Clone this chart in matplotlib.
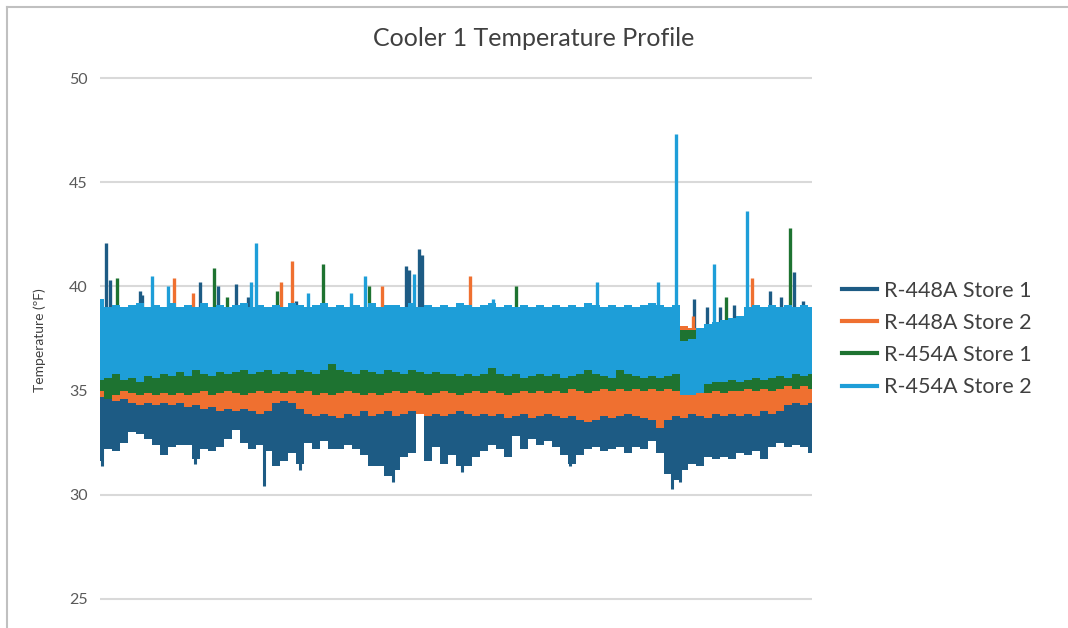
import numpy as np
import matplotlib
matplotlib.use("Agg")
import matplotlib.pyplot as plt
from matplotlib.lines import Line2D

# readings of each band every 8 samples (sample 0 .. 712)
t = np.arange(0, 713, 8)

# R-448A Store 1
s1_lo = [31.6, 32.2, 32.1, 32.5, 33.0, 32.9, 32.7, 32.4, 31.9, 32.3,
         32.4, 32.4, 31.7, 32.2, 32.1, 32.3, 32.7, 33.1, 32.5, 32.2,
         32.4, 32.1, 31.4, 31.6, 32.0, 31.5, 32.5, 32.2, 32.6, 32.2,
         32.2, 32.4, 32.2, 31.9, 31.4, 31.4, 30.9, 31.2, 31.8, 32.0,
         33.9, 31.6, 32.3, 31.5, 31.9, 31.4, 31.4, 31.8, 32.1, 32.4,
         32.2, 31.8, 32.8, 32.2, 32.7, 32.4, 32.6, 32.3, 31.9, 31.5,
         31.9, 32.2, 32.3, 32.1, 32.2, 32.3, 32.0, 32.3, 32.2, 32.6,
         32.0, 31.0, 30.7, 31.2, 31.5, 31.4, 31.8, 31.7, 31.8, 31.7,
         32.0, 31.9, 32.1, 31.7, 32.3, 32.5, 32.3, 32.4, 32.3, 32.0]
s1_hi = [37.0, 37.0, 37.0, 37.0, 37.0, 37.0, 37.0, 37.0, 37.0, 37.0,
         37.0, 37.0, 37.0, 37.0, 37.0, 37.0, 37.0, 37.0, 37.0, 37.0,
         37.0, 37.0, 37.0, 37.0, 37.0, 37.0, 37.0, 37.0, 37.0, 37.0,
         37.0, 37.0, 37.0, 37.0, 37.0, 37.0, 37.0, 37.0, 37.0, 37.0,
         37.0, 37.0, 37.0, 37.0, 37.0, 37.0, 37.0, 37.0, 37.0, 37.0,
         37.0, 37.0, 37.0, 37.0, 37.0, 37.0, 37.0, 37.0, 37.0, 37.0,
         37.0, 37.0, 37.0, 37.0, 37.0, 37.0, 37.0, 37.0, 37.0, 37.0,
         37.0, 37.0, 37.0, 37.0, 37.0, 37.0, 37.0, 37.0, 37.0, 37.0,
         37.0, 37.0, 37.0, 37.0, 37.0, 37.0, 37.0, 37.0, 37.0, 37.0]
s1_peak_t = [6, 10, 40, 42, 100, 118, 136, 148, 196, 306, 309, 319, 322,
             594, 607, 620, 634, 670, 681, 694, 703]
s1_peak_v = [42.1, 40.3, 39.8, 39.6, 40.2, 40.0, 40.1, 39.5, 39.3, 41.0, 40.8, 41.8, 41.5,
             39.4, 39.0, 39.0, 39.1, 39.8, 39.5, 40.7, 39.3]
s1_dip_t = [2, 95, 164, 200, 293, 362, 470, 572, 580]
s1_dip_v = [31.4, 31.5, 30.4, 31.2, 30.6, 31.1, 31.4, 30.3, 30.6]

# R-448A Store 2
s2_lo = [34.7, 34.6, 34.5, 34.6, 34.4, 34.3, 34.4, 34.3, 34.4, 34.3,
         34.4, 34.2, 34.3, 34.1, 34.2, 34.0, 34.1, 34.0, 34.1, 34.0,
         33.9, 34.0, 34.4, 34.5, 34.4, 34.1, 33.9, 33.8, 33.9, 33.8,
         33.7, 33.9, 33.8, 34.0, 33.8, 33.9, 34.0, 33.8, 33.9, 34.0,
         33.9, 33.8, 33.9, 33.8, 33.9, 34.0, 33.9, 33.8, 33.9, 33.8,
         33.9, 33.7, 33.8, 33.9, 33.7, 33.8, 33.9, 33.8, 33.7, 33.8,
         33.6, 33.5, 33.6, 33.8, 33.7, 33.8, 33.9, 33.8, 33.7, 33.6,
         33.2, 33.6, 33.8, 33.7, 33.9, 33.8, 33.7, 33.9, 33.8, 33.9,
         33.8, 33.9, 33.8, 34.0, 33.9, 34.0, 34.3, 34.4, 34.3, 34.4]
s2_hi = [37.5, 37.5, 37.5, 37.5, 37.5, 37.5, 37.5, 37.5, 37.5, 37.5,
         37.5, 37.5, 37.5, 37.5, 37.5, 37.5, 37.5, 37.5, 37.5, 37.5,
         37.5, 37.5, 37.5, 37.5, 37.5, 37.5, 37.5, 37.5, 37.5, 37.5,
         37.5, 37.5, 37.5, 37.5, 37.5, 37.5, 37.5, 37.5, 37.5, 37.5,
         37.5, 37.5, 37.5, 37.5, 37.5, 37.5, 37.5, 37.5, 37.5, 37.5,
         37.5, 37.5, 37.5, 37.5, 37.5, 37.5, 37.5, 37.5, 37.5, 37.5,
         37.5, 37.5, 37.5, 37.5, 37.5, 37.5, 37.5, 37.5, 37.5, 37.5,
         37.5, 37.5, 37.5, 38.1, 38.0, 37.5, 37.5, 37.5, 37.5, 37.5,
         37.5, 37.5, 37.5, 37.5, 37.5, 37.5, 37.5, 37.5, 37.5, 37.5]
s2_peak_t = [13, 74, 93, 181, 192, 282, 370, 593, 652]
s2_peak_v = [39.1, 40.4, 39.7, 40.2, 41.2, 40.0, 40.5, 38.6, 40.4]

# R-454A Store 1
s3_lo = [35.0, 34.6, 34.8, 35.0, 34.9, 34.8, 34.9, 34.8, 34.9, 34.8,
         34.9, 34.8, 34.9, 35.0, 34.8, 34.9, 35.0, 34.9, 34.8, 34.9,
         35.0, 34.9, 35.0, 34.9, 35.0, 34.9, 35.0, 34.8, 34.9, 34.8,
         34.9, 35.0, 34.9, 34.8, 34.9, 34.8, 34.9, 35.0, 34.9, 35.0,
         34.9, 34.8, 34.9, 35.0, 34.9, 34.8, 34.9, 35.0, 34.9, 35.0,
         34.9, 34.8, 34.9, 35.0, 34.9, 35.0, 34.9, 35.0, 34.9, 35.1,
         35.0, 34.9, 35.0, 35.1, 35.0, 35.1, 35.0, 35.1, 35.0, 35.1,
         35.0, 35.1, 35.0, 34.9, 34.9, 34.9, 34.9, 35.0, 34.9, 35.0,
         35.0, 35.1, 35.0, 35.1, 35.0, 35.1, 35.2, 35.1, 35.2, 35.1]
s3_hi = [38.0, 38.0, 38.0, 38.0, 38.0, 38.0, 38.0, 38.0, 38.0, 38.0,
         38.0, 38.0, 38.0, 38.0, 38.0, 38.0, 38.0, 38.0, 38.0, 38.0,
         38.0, 38.0, 38.0, 38.0, 38.0, 38.0, 38.0, 38.0, 38.0, 38.0,
         38.0, 38.0, 38.0, 38.0, 38.0, 38.0, 38.0, 38.0, 38.0, 38.0,
         38.0, 38.0, 38.0, 38.0, 38.0, 38.0, 38.0, 38.0, 38.0, 38.0,
         38.0, 38.0, 38.0, 38.0, 38.0, 38.0, 38.0, 38.0, 38.0, 38.0,
         38.0, 38.0, 38.0, 38.0, 38.0, 38.0, 38.0, 38.0, 38.0, 38.0,
         38.0, 38.0, 38.0, 37.9, 37.9, 38.0, 38.0, 38.0, 38.0, 38.0,
         38.0, 38.0, 38.0, 38.0, 38.0, 38.0, 38.0, 38.0, 38.0, 38.0]
s3_peak_t = [17, 114, 127, 177, 223, 269, 416, 626, 690]
s3_peak_v = [40.4, 40.9, 39.5, 39.8, 41.1, 40.0, 40.0, 39.5, 42.8]

# R-454A Store 2
s4_lo = [35.5, 35.6, 35.8, 35.5, 35.6, 35.4, 35.7, 35.6, 35.8, 35.7,
         35.9, 35.7, 36.0, 35.8, 35.7, 35.9, 35.8, 35.9, 36.0, 35.8,
         35.9, 36.0, 35.8, 35.9, 35.8, 36.0, 35.9, 35.8, 36.0, 36.3,
         36.0, 35.9, 35.8, 36.0, 35.9, 35.8, 36.0, 35.9, 35.8, 36.0,
         35.9, 35.8, 35.9, 35.8, 35.8, 35.7, 35.8, 35.7, 35.8, 36.1,
         35.8, 35.7, 35.8, 35.6, 35.7, 35.8, 35.7, 35.8, 35.6, 35.7,
         35.8, 36.0, 35.8, 35.7, 35.6, 36.0, 35.8, 35.7, 35.6, 35.7,
         35.6, 35.7, 35.8, 34.8, 34.8, 34.9, 35.3, 35.4, 35.4, 35.5,
         35.4, 35.5, 35.6, 35.5, 35.6, 35.7, 35.6, 35.8, 35.7, 35.8]
s4_hi = [39.4, 39.0, 39.1, 39.0, 39.1, 39.2, 39.0, 39.1, 39.0, 39.2,
         39.0, 39.1, 39.0, 39.2, 39.0, 39.1, 39.0, 39.1, 39.2, 39.0,
         39.1, 39.0, 39.1, 39.0, 39.2, 39.1, 39.0, 39.1, 39.2, 39.0,
         39.1, 39.0, 39.1, 39.0, 39.2, 39.0, 39.1, 39.1, 39.0, 39.2,
         39.0, 39.1, 39.0, 39.1, 39.0, 39.2, 39.1, 39.0, 39.1, 39.2,
         39.0, 39.1, 39.0, 39.1, 39.0, 39.1, 39.0, 39.1, 39.0, 39.1,
         39.0, 39.2, 39.1, 39.0, 39.1, 39.0, 39.1, 39.0, 39.1, 39.2,
         39.1, 39.0, 39.1, 37.4, 37.5, 38.0, 38.2, 38.3, 38.4, 38.5,
         38.6, 39.0, 39.1, 39.0, 39.1, 39.0, 39.1, 39.0, 39.1, 39.0]
s4_peak_t = [52, 68, 151, 156, 208, 251, 265, 314, 393, 497, 558, 576, 614, 647]
s4_peak_v = [40.5, 40.0, 40.2, 42.1, 39.7, 39.7, 40.5, 40.6, 39.4, 40.2, 40.2, 47.3, 41.1, 43.6]

labels = ["R-448A Store 1", "R-448A Store 2", "R-454A Store 1", "R-454A Store 2"]
colors = ["#1d5b84", "#ef7030", "#1e7331", "#1e9ed8"]

plt.rcParams['font.family'] = ['Lato', 'DejaVu Sans']

fig = plt.figure(figsize=(10.68, 6.28), dpi=100)
ax = fig.add_axes([0.0936, 0.0296, 0.6667, 0.8627])

series = [
    (s1_lo, s1_hi, s1_peak_t, s1_peak_v),
    (s2_lo, s2_hi, s2_peak_t, s2_peak_v),
    (s3_lo, s3_hi, s3_peak_t, s3_peak_v),
    (s4_lo, s4_hi, s4_peak_t, s4_peak_v),
]
for i, (lo, hi, pt, pv) in enumerate(series):
    z = 3 + i
    ax.fill_between(t, lo, hi, step="mid", color=colors[i], lw=0, zorder=z)
    ax.vlines(pt, 36.5, pv, color=colors[i], lw=2.4, zorder=z)
    if i == 0:
        ax.vlines(s1_dip_t, s1_dip_v, 33.5, color=colors[i], lw=2.2, zorder=z)

ax.set_xlim(0, 712)
ax.set_ylim(24.5, 50.5)
ax.set_yticks([25, 30, 35, 40, 45, 50])
ax.set_xticks([])
ax.grid(axis="y", color="#d9d9d9", lw=1.5, zorder=0)
for s in ax.spines.values():
    s.set_visible(False)
ax.tick_params(axis="y", length=0, pad=9, labelsize=11.5, labelcolor="#595959")

fig.text(0.5, 1 - 38 / 628, "Cooler 1 Temperature Profile", ha="center", va="center",
         fontsize=18, color="#404040")
fig.text(40 / 1068, 1 - 340 / 628, "Temperature (ºF)", rotation=90, ha="center", va="center",
         fontsize=10, color="#404040")

handles = [Line2D([0], [0], color=c, lw=3) for c in colors]
fig.legend(handles, labels, loc="center left", bbox_to_anchor=(831 / 1068, 1 - 339 / 628),
           frameon=False, fontsize=15.5, handlelength=1.63, handletextpad=0.33,
           labelspacing=0.56, borderpad=0, labelcolor="#404040")

# frame of the original figure
fig.add_artist(Line2D([7 / 1068, 7 / 1068], [0, 1 - 7 / 628], color="#c0c0c0", lw=1.5))
fig.add_artist(Line2D([7 / 1068, 1], [1 - 7 / 628, 1 - 7 / 628], color="#c0c0c0", lw=1.5))

fig.savefig("out.png", dpi=100)
